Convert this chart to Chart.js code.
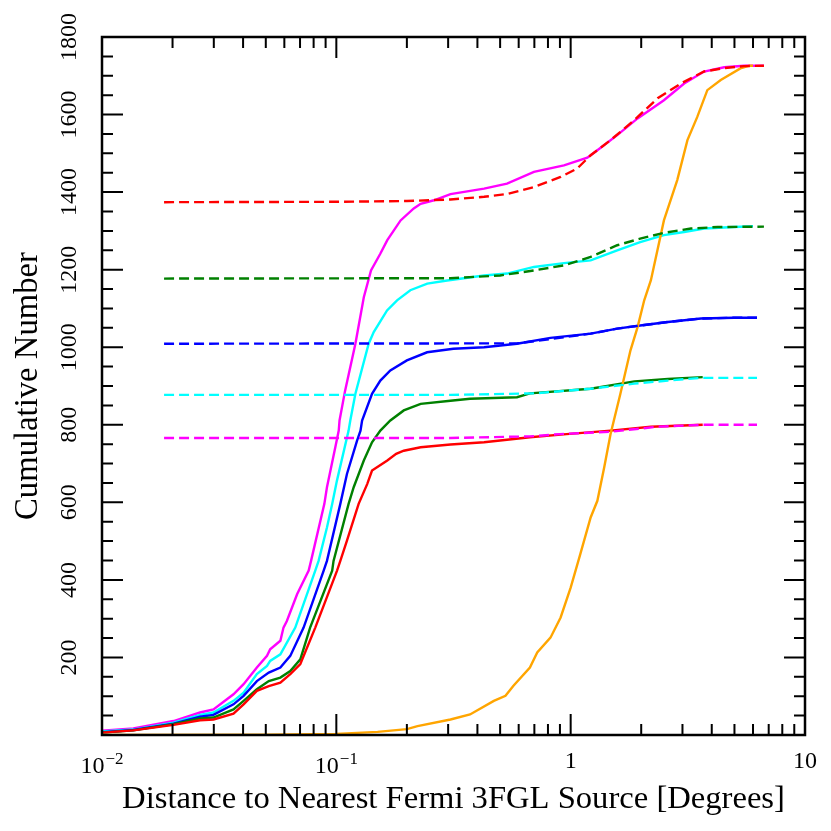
<!DOCTYPE html>
<html>
<head>
<meta charset="utf-8">
<script src="https://cdn.jsdelivr.net/npm/chart.js@4.4.1/dist/chart.umd.min.js"></script>
<style>
html,body{margin:0;padding:0;background:#fff;}
canvas{display:block;}
</style>
</head>
<body>
<canvas id="c" width="831" height="831"></canvas>
<script>
// ---- Data ----
const magentaX = [0.01,0.0136,0.0202,0.0262,0.0299,0.0364,0.0402,0.0458,0.0506,0.0522,0.0577,0.0595,0.0615,0.068,0.0762,0.078,0.0889,0.0912,0.099,0.1024,0.1032,0.109,0.1206,0.131,0.1406,0.154,0.165,0.188,0.214,0.229,0.261,0.307,0.427,0.535,0.697,0.936,1.178,1.3,1.58,1.93,2.5,3.05,3.71,4.52,5.5,6.68];
const magentaY = [11,17,36,58,66,105,131,174,204,221,243,277,294,363,424,449,596,639,742,785,811,888,1009,1129,1198,1241,1276,1327,1358,1370,1379,1395,1409,1422,1452,1469,1489,1508,1547,1590,1637,1680,1711,1722,1726,1726];

const cyanX = [0.01,0.0136,0.0202,0.0262,0.0299,0.0364,0.0402,0.0458,0.0506,0.0522,0.0577,0.0668,0.0813,0.084,0.0912,0.096,0.1006,0.1128,0.1147,0.1206,0.1374,0.1444,0.1646,0.1816,0.2069,0.2444,0.297,0.427,0.535,0.697,0.936,1.217,1.58,1.98,2.5,3.05,3.71,4.97,6.0];
const cyanY = [9,14,32,52,58,88,109,157,178,191,208,277,424,449,535,596,656,785,811,880,1009,1039,1095,1121,1147,1164,1172,1185,1190,1207,1217,1224,1250,1271,1289,1297,1306,1310,1312];

const blueX = [0.01,0.0136,0.0202,0.0262,0.0299,0.0364,0.0402,0.0458,0.0515,0.0577,0.0636,0.0725,0.0883,0.0912,0.104,0.111,0.1226,0.1268,0.1288,0.142,0.1541,0.170,0.2,0.244,0.316,0.427,0.59,0.82,1.217,1.58,1.98,2.6,3.6,4.97,6.24];
const blueY = [7,13,29,47,52,79,101,139,161,174,204,277,424,449,596,673,759,785,811,880,914,940,966,987,996,1000,1009,1024,1035,1048,1056,1065,1074,1076,1076];

const greenX = [0.01,0.0136,0.0202,0.0262,0.0299,0.0364,0.0402,0.0458,0.0515,0.0577,0.0636,0.0702,0.0773,0.096,0.0973,0.1128,0.1186,0.131,0.142,0.1541,0.170,0.194,0.229,0.307,0.372,0.59,0.67,1.217,1.87,2.6,3.66];
const greenY = [6,12,28,43,45,66,88,118,139,148,165,195,277,424,449,596,639,708,755,785,811,837,854,862,867,871,881,893,912,918,923];

const redX = [0.01,0.0136,0.0202,0.0262,0.0299,0.0364,0.0402,0.0458,0.0515,0.0577,0.0636,0.0702,0.0813,0.1007,0.104,0.111,0.1245,0.1354,0.142,0.165,0.18,0.194,0.229,0.307,0.427,0.67,0.96,1.48,2.2,3.66];
const redY = [6,12,26,38,40,55,79,114,126,135,157,183,277,424,449,501,596,647,682,708,725,733,742,749,755,768,776,785,795,800];

const orangeX = [0.01,0.05,0.1,0.15,0.2,0.222,0.307,0.372,0.47,0.527,0.57,0.67,0.72,0.82,0.906,1.0,1.1,1.217,1.3,1.39,1.48,1.63,1.8,1.93,2.06,2.2,2.5,2.85,3.15,3.47,3.83,4.37,5.3,5.8,6.0];
const orangeY = [0,1,3,8,15,23,40,53,88,101,127,174,213,251,303,380,467,561,604,690,776,880,992,1052,1121,1173,1327,1431,1534,1594,1663,1689,1719,1726,1726];

const redDashX = [0.0184,0.1,0.2,0.307,0.427,0.535,0.697,0.906,1.067,1.217,1.48,1.87,2.35,2.95,3.71,4.52,5.5,6.68];
const redDashY = [1374,1375,1377,1381,1388,1395,1413,1439,1461,1495,1534,1586,1642,1680,1711,1720,1725,1726];

const greenDashX = [0.0184,0.307,0.5,0.697,0.936,1.217,1.58,1.98,2.5,3.26,4.24,6.68];
const greenDashY = [1177,1178,1185,1198,1211,1233,1263,1280,1295,1306,1310,1311];

const blueDashX = [0.0184,0.59,0.82,1.217,1.58,1.98,2.6,3.6,4.97,6.24];
const blueDashY = [1009,1010,1021,1035,1048,1056,1065,1074,1076,1076];

const cyanDashX = [0.0184,0.307,0.697,1.217,1.87,2.6,3.6,6.24];
const cyanDashY = [877,877,881,893,906,914,921,921];

const magentaDashX = [0.0184,0.307,0.67,0.9,1.48,2.35,3.66,6.24];
const magentaDashY = [766,766,770,776,782,795,800,800];

const xTickValues = [0.01, 0.1, 1, 10];
const xTickBase = ['10', '10', '1', '10'];
const xTickExp = ['\u22122', '\u22121', '', ''];
const yTickValues = [200, 400, 600, 800, 1000, 1200, 1400, 1600, 1800];
const xTitle = 'Distance to Nearest Fermi 3FGL Source [Degrees]';
const yTitle = 'Cumulative Number';

// ---- build datasets ----
function pts(xs, ys) { return xs.map((x, i) => ({x: x, y: ys[i]})); }
const DASH = [10, 5];
const datasets = [
  {data: pts(redDashX, redDashY), borderColor: '#ff0000', borderDash: DASH},
  {data: pts(greenDashX, greenDashY), borderColor: '#008000', borderDash: DASH},
  {data: pts(blueDashX, blueDashY), borderColor: '#0000ff', borderDash: DASH},
  {data: pts(cyanDashX, cyanDashY), borderColor: '#00ffff', borderDash: DASH},
  {data: pts(magentaDashX, magentaDashY), borderColor: '#ff00ff', borderDash: DASH},
  {data: pts(orangeX, orangeY), borderColor: '#ffa500'},
  {data: pts(redX, redY), borderColor: '#ff0000'},
  {data: pts(greenX, greenY), borderColor: '#008000'},
  {data: pts(blueX, blueY), borderColor: '#0000ff'},
  {data: pts(cyanX, cyanY), borderColor: '#00ffff'},
  {data: pts(magentaX, magentaY), borderColor: '#ff00ff'}
].map(d => Object.assign({borderWidth: 2.4, pointRadius: 0, fill: false, tension: 0}, d));

const SERIF = '"Liberation Serif", "DejaVu Serif", serif';

const axesPlugin = {
  id: 'axesPlugin',
  afterDraw(chart) {
    const ctx = chart.ctx;
    const a = chart.chartArea;
    const xs = chart.scales.x, ys = chart.scales.y;
    ctx.save();
    ctx.strokeStyle = '#000';
    ctx.fillStyle = '#000';
    ctx.lineWidth = 2;
    const MAJ = 21, MIN = 11;
    for (let e = -2; e <= 1; e++) {
      for (let m = 1; m <= 9; m++) {
        const v = m * Math.pow(10, e);
        if (v < 0.01 - 1e-12 || v > 10 + 1e-9) continue;
        const px = xs.getPixelForValue(v);
        const len = (m === 1) ? MAJ : MIN;
        ctx.beginPath();
        ctx.moveTo(px, a.bottom); ctx.lineTo(px, a.bottom - len);
        ctx.moveTo(px, a.top); ctx.lineTo(px, a.top + len);
        ctx.stroke();
      }
    }
    for (let v = 0; v <= 1800; v += 50) {
      const py = ys.getPixelForValue(v);
      const len = (v % 200 === 0) ? MAJ : MIN;
      ctx.beginPath();
      ctx.moveTo(a.left, py); ctx.lineTo(a.left + len, py);
      ctx.moveTo(a.right, py); ctx.lineTo(a.right - len, py);
      ctx.stroke();
    }
    ctx.lineWidth = 2.5;
    ctx.strokeRect(a.left, a.top, a.right - a.left, a.bottom - a.top);

    ctx.textBaseline = 'alphabetic';
    const BF = '24px ' + SERIF, EF = '17px ' + SERIF;
    for (let i = 0; i < xTickValues.length; i++) {
      const px = xs.getPixelForValue(xTickValues[i]);
      const base = xTickBase[i], ex = xTickExp[i];
      ctx.font = BF;
      const wb = ctx.measureText(base).width;
      if (ex) {
        ctx.font = EF;
        const we = ctx.measureText(ex).width;
        const left = px - (wb + we + 1) / 2;
        ctx.font = BF;
        ctx.textAlign = 'left';
        ctx.fillText(base, left, 773);
        ctx.font = EF;
        ctx.fillText(ex, left + wb + 1, 764);
      } else {
        ctx.font = BF;
        ctx.textAlign = 'center';
        ctx.fillText(base, px, 768);
      }
    }
    ctx.font = BF;
    ctx.textAlign = 'center';
    for (const v of yTickValues) {
      const py = ys.getPixelForValue(v);
      ctx.save();
      ctx.translate(76, py);
      ctx.rotate(-Math.PI / 2);
      ctx.fillText(String(v), 0, 0);
      ctx.restore();
    }
    function fitFont(text, target) {
      ctx.font = '28px ' + SERIF;
      const w = ctx.measureText(text).width;
      return 28 * target / w;
    }
    const fx = fitFont(xTitle, 663);
    ctx.font = fx.toFixed(2) + 'px ' + SERIF;
    ctx.textAlign = 'center';
    ctx.fillText(xTitle, (a.left + a.right) / 2, 808);
    const fy = fitFont(yTitle, 268);
    ctx.font = fy.toFixed(2) + 'px ' + SERIF;
    ctx.save();
    ctx.translate(36.5, (a.top + a.bottom) / 2);
    ctx.rotate(-Math.PI / 2);
    ctx.fillText(yTitle, 0, 0);
    ctx.restore();
    ctx.restore();
  }
};

new Chart(document.getElementById('c').getContext('2d'), {
  type: 'line',
  data: {datasets: datasets},
  options: {
    responsive: false,
    animation: false,
    events: [],
    layout: {padding: {left: 102, right: 26, top: 37, bottom: 96}},
    scales: {
      x: {type: 'logarithmic', min: 0.01, max: 10, display: false},
      y: {type: 'linear', min: 0, max: 1800, display: false}
    },
    plugins: {legend: {display: false}, tooltip: {enabled: false}, title: {display: false}}
  },
  plugins: [axesPlugin]
});
</script>
</body>
</html>
